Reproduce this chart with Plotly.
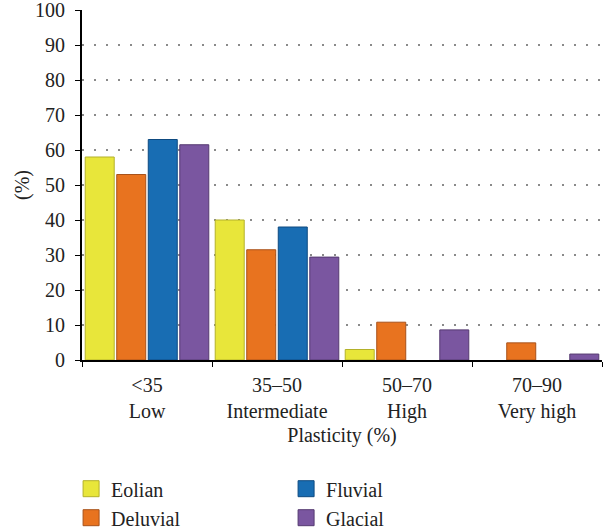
import plotly.graph_objects as go

# Plasticity classes (two-line category labels)
categories = ["<35<br>Low", "35–50<br>Intermediate", "50–70<br>High", "70–90<br>Very high"]

# Share of samples (%) per sediment origin
eolian = [58, 40, 3, 0]
deluvial = [53, 31.5, 10.8, 4.9]
fluvial = [63, 38, 0, 0]
glacial = [61.5, 29.4, 8.6, 1.7]

series = [
    ("Eolian", eolian, "#E8E63A", "#B3B12A", 1),
    ("Deluvial", deluvial, "#E8731F", "#A8521A", 3),
    ("Fluvial", fluvial, "#186DB3", "#0E4A80", 2),
    ("Glacial", glacial, "#7A56A0", "#553A70", 4),
]

FONT = "Liberation Serif"
FS = 20
TXT = "#222"

fig = go.Figure()
for name, vals, color, edge, rank in series:
    fig.add_trace(go.Bar(
        name=name, x=categories, y=vals, showlegend=False,
        marker=dict(color=color,
                    line=dict(color=edge, width=[1 if v > 0 else 0 for v in vals])),
    ))
    # legend key drawn as a larger square swatch
    fig.add_trace(go.Scatter(
        name=name, x=[None], y=[None], mode="markers",
        marker=dict(symbol="square", size=16, color=color, line=dict(color=edge, width=1)),
        legendrank=rank, hoverinfo="skip",
    ))

fig.update_layout(
    width=606, height=531,
    margin=dict(l=82, r=4, t=10, b=171, autoexpand=False),
    paper_bgcolor="white", plot_bgcolor="white",
    barmode="group", bargap=0.03, bargroupgap=0.08,
    font=dict(family=FONT, size=FS, color=TXT),
    showlegend=True,
    legend=dict(
        orientation="h", x=-0.021, xanchor="left", y=-0.312, yanchor="top",
        entrywidth=170, entrywidthmode="pixels", tracegroupgap=0,
        font=dict(family=FONT, size=FS, color=TXT),
        bgcolor="rgba(0,0,0,0)",
    ),
)

fig.update_xaxes(
    type="category", automargin=False,
    showline=True, linecolor="black", linewidth=2,
    ticks="outside", tickson="boundaries", ticklen=5, tickcolor="black", tickwidth=1,
    ticklabelstandoff=6,
    showgrid=False,
    tickfont=dict(family=FONT, size=FS, color=TXT),
    title=dict(text="Plasticity (%)", font=dict(family=FONT, size=FS, color=TXT), standoff=6),
)

fig.update_yaxes(
    range=[0, 100], dtick=10, automargin=False,
    showline=True, linecolor="black", linewidth=2,
    ticks="outside", ticklen=5, tickcolor="black", tickwidth=1,
    ticklabelstandoff=6, ticklabeloverflow="allow",
    showgrid=True, gridcolor="#8a8a8a", gridwidth=1.5, griddash="2px,10px",
    zeroline=False,
    tickfont=dict(family=FONT, size=FS, color=TXT),
    title=dict(text="(%)", font=dict(family=FONT, size=FS, color=TXT), standoff=0),
)

fig.write_html("out.html")
